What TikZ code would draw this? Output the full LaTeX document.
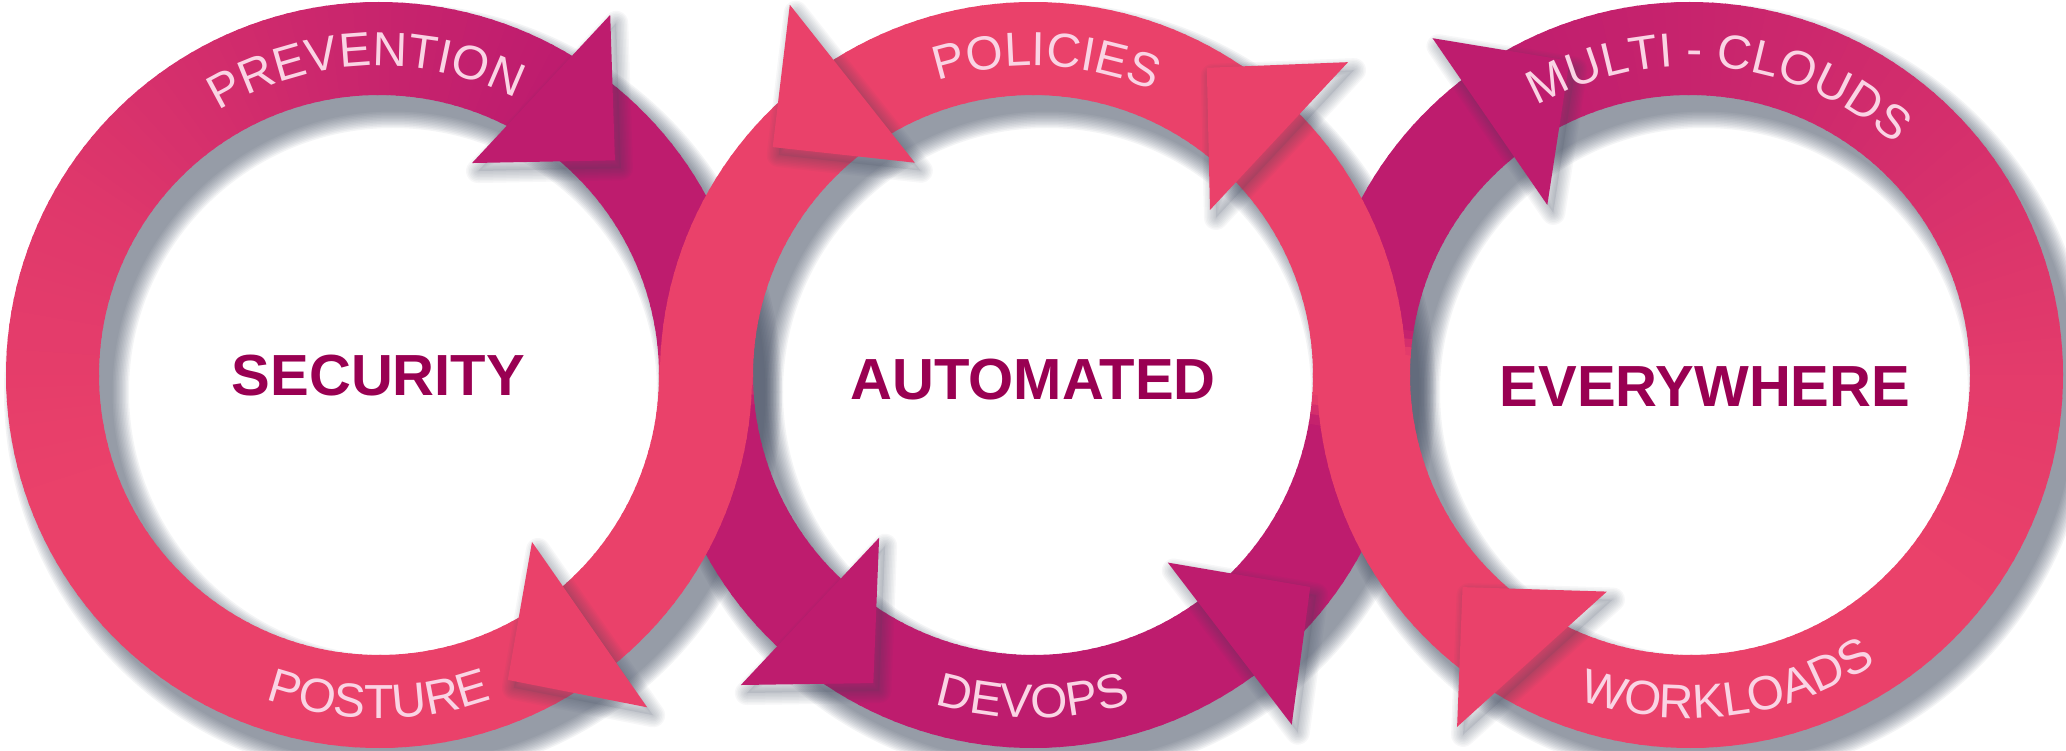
\documentclass[tikz,border=0pt]{standalone}
\usepackage{fontspec}
\setmainfont{Liberation Sans}
\newfontfamily\lblfamily{Liberation Sans}
\newfontfamily\centfamily{Liberation Sans}
\usetikzlibrary{decorations.text}
\definecolor{pinkA}{RGB}{234,65,106}
\definecolor{magA}{RGB}{190,28,110}
\definecolor{lblc}{RGB}{250,212,228}
\definecolor{centc}{RGB}{153,0,82}
\definecolor{shadc}{RGB}{60,70,92}
\newcommand{\lblfont}{\lblfamily\fontsize{13.6pt}{13.6pt}\selectfont\color{lblc}}
\newcommand{\centfont}{\centfamily\bfseries\fontsize{16.5pt}{16.5pt}\selectfont}
\def\ri{2.8cm}
\def\ro{3.73cm}
% annular band piece from angle #1 to #2 (increasing), colour mix magA %#3 -> %#4
\newcommand{\bandseg}[4]{%
  \pgfmathtruncatemacro{\nseg}{max(1,round(abs(#2-#1)/2))}%
  \foreach \k in {1,...,\nseg}{%
    \pgfmathsetmacro{\aa}{#1+(#2-#1)*(\k-1)/\nseg}%
    \pgfmathsetmacro{\ab}{#1+(#2-#1)*\k/\nseg+0.5}%
    \pgfmathsetmacro{\mm}{#3+(#4-#3)*(\k-0.5)/\nseg}%
    \fill[fill={magA!\mm!pinkA}] (\aa:\ro) arc[start angle=\aa,end angle=\ab,radius=\ro] -- (\ab:\ri) arc[start angle=\ab,end angle=\aa,radius=\ri] -- cycle;
  }%
}
\newcommand{\headshadow}[3]{%
  \foreach \k in {0,...,7}{%
    \pgfmathsetmacro{\lw}{0.24-0.03*\k}%
    \draw[shadc, opacity=0.04, line width={\lw cm}, line join=round, shift={(0.06,-0.08)}] (#1) -- (#2) -- (#3) -- cycle;
  }%
  \fill[shadc, opacity=0.10, shift={(0.06,-0.08)}] (#1) -- (#2) -- (#3) -- cycle;
}
\newcommand{\arrowhead}[4]{%
  \headshadow{#2}{#3}{#4}%
  \fill[#1] (#2) -- (#3) -- (#4) -- cycle;
}
\tikzset{
  centtext/.style={font=\centfont, text=centc, inner sep=0pt},
  toplabel/.style={decorate, decoration={text along path, text={|\lblfont|#1}, text align=center}},
}
\newcommand{\ringlabel}[4]{% text, start angle, end angle, radius
  \path[toplabel={#1}] (#2:#4) arc[start angle=#2, end angle=#3, radius=#4];
}
\begin{document}
\begin{tikzpicture}
\useasboundingbox (0,0) rectangle (20.66,7.5);
\fill[white] (0,0) rectangle (20.66,7.5);
\coordinate (c1) at (3.79,3.75);
\coordinate (c2) at (10.33,3.75);
\coordinate (c3) at (16.90,3.75);
% soft shadows of the three rings
\foreach \c in {c1,c2,c3}{
  \foreach \k in {0,...,11}{
    \pgfmathsetmacro{\lw}{1.25-0.03*\k}
    \draw[shadc, opacity=0.06, line width={\lw cm}] ([shift={(0.14,-0.17)}]\c) circle[radius=3.265cm];
  }
}
% ring 2, lower half (under rings 1 and 3)
\begin{scope}[shift={(c2)}]
  \bandseg{180}{186}{0}{100}
  \bandseg{186}{350}{100}{100}
  \bandseg{350}{356}{100}{0}
  \bandseg{356}{360}{0}{0}
  \arrowhead{magA}{-133.3:4.26cm}{-133.4:2.24cm}{-117.4:3.47cm}
  \arrowhead{magA}{-53.5:4.35cm}{-54.3:2.31cm}{-37.4:3.49cm}
\end{scope}
% ring 1
\begin{scope}[shift={(c1)}]
  \bandseg{-60}{0}{0}{0}
  \bandseg{0}{6}{0}{100}
  \bandseg{6}{60}{100}{100}
  \bandseg{60}{100}{100}{70}
  \bandseg{100}{150}{70}{25}
  \bandseg{150}{200}{25}{0}
  \bandseg{200}{300}{0}{0}
  \arrowhead{magA}{57.3:4.28cm}{66.3:2.315cm}{42.3:3.19cm}
  \arrowhead{pinkA}{-51.1:4.27cm}{-47.5:2.265cm}{-67.1:3.31cm}
\end{scope}
% ring 3
\begin{scope}[shift={(c3)}]
  \bandseg{-180}{-40}{0}{0}
  \bandseg{-40}{0}{0}{15}
  \bandseg{0}{45}{15}{50}
  \bandseg{45}{90}{50}{80}
  \bandseg{90}{128}{80}{100}
  \bandseg{128}{171}{100}{100}
  \bandseg{171}{176}{100}{0}
  \bandseg{176}{180}{0}{0}
  \arrowhead{magA}{127.4:4.24cm}{130:2.22cm}{111:3.365cm}
  \arrowhead{pinkA}{-123.5:4.22cm}{-111:2.32cm}{-137:3.11cm}
\end{scope}
% ring 2, upper half (over rings 1 and 3)
\begin{scope}[shift={(c2)}]
  \bandseg{-0.6}{180}{0}{0}
  \arrowhead{pinkA}{123.3:4.43cm}{119.1:2.43cm}{138.8:3.46cm}
  \arrowhead{pinkA}{44.8:4.44cm}{43:2.42cm}{60.5:3.53cm}
\end{scope}
% labels on the rings
\begin{scope}[shift={(c1)}]
  \ringlabel{PREVENTION}{152.5}{32.5}{3.09cm}
  \ringlabel{POSTURE}{-150}{-30}{3.43cm}
\end{scope}
\begin{scope}[shift={(c2)}]
  \ringlabel{POLICIES}{147.5}{27.5}{3.09cm}
  \ringlabel{DEVOPS}{-150}{-30}{3.43cm}
\end{scope}
\begin{scope}[shift={(c3)}]
  \ringlabel{MULTI - CLOUDS}{144}{24}{3.09cm}
  \ringlabel{WORKLOADS}{-143}{-23}{3.43cm}
\end{scope}
% centre words
\node[centtext] (security) at (3.785,3.745) {SECURITY};
\node[centtext] (automated) at (10.33,3.70) {AUTOMATED};
\node[centtext] (everywhere) at (17.05,3.63) {EVERYWHERE};
\end{tikzpicture}
\end{document}
